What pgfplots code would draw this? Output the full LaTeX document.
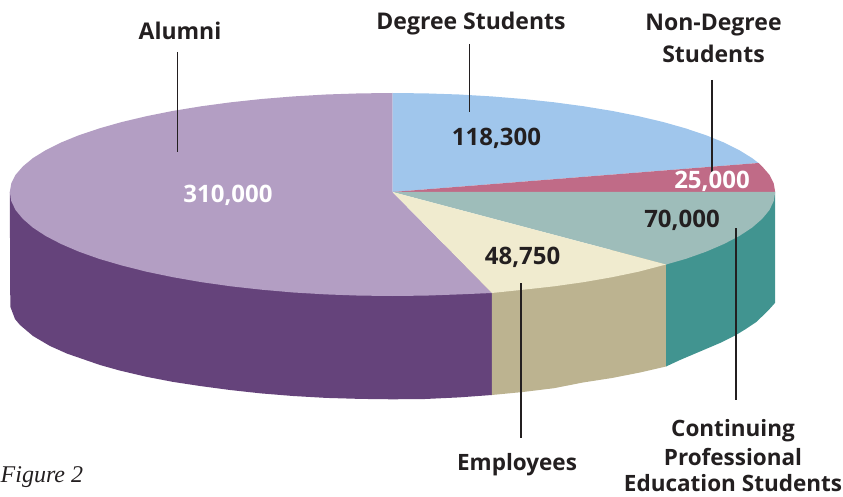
\documentclass[border=0pt]{standalone}
\usepackage{fontspec}
\setmainfont{Open Sans}
\newfontfamily\figfont{Liberation Serif}
\usepackage{pgfplots}
\pgfplotsset{compat=1.18}
\definecolor{sideA}{HTML}{65437B}
\definecolor{sideE}{HTML}{BCB390}
\definecolor{sideC}{HTML}{419490}
\definecolor{topA}{HTML}{B39EC3}
\definecolor{topD}{HTML}{A0C6EC}
\definecolor{topN}{HTML}{C06B87}
\definecolor{topC}{HTML}{9EBDBA}
\definecolor{topE}{HTML}{F0EBCF}
\definecolor{ink}{HTML}{231F20}
\tikzset{lbl/.style={font=\fontsize{23}{24}\selectfont\bfseries,text=ink,anchor=base,inner sep=0pt},
 low/.style={lbl,font=\fontsize{22.5}{24}\selectfont\bfseries},
 num/.style={lbl,font=\fontsize{24}{25}\selectfont\bfseries}}
\begin{document}
\begin{tikzpicture}
\path[use as bounding box,clip] (0,0) rectangle (843pt,497pt);
\begin{axis}[
  at={(0,0)},anchor=south west,scale only axis,width=843pt,height=497pt,
  xmin=0,xmax=843,ymin=0,ymax=497,y dir=reverse,hide axis,clip=false,
  every axis plot/.append style={no markers},
]
% sides
\addplot[fill=sideA,draw=none] coordinates {(9.8,192)(10.3,306.7)(15,319)(20,325)(33,336)(50,346)(67,353.6)(100,365)(120,370.6)(146,376.7)(173,381.9)(200,386)(230,390)(261,393.4)(293,396)(326,397.9)(360,398.9)(392.5,399.3)(425,399)(459,397.4)(491.8,395)(491.8,250)};
\addplot[fill=sideE,draw=none] coordinates {(491.8,250)(491.8,395)(523,392)(554,388.2)(583,382.5)(612,378)(640,372.5)(666,366.5)(666,250)};
\addplot[fill=sideC,draw=none] coordinates {(666,264.5)(666,366.5)(680,360)(700,351.5)(720,343)(736,335)(745,329.5)(756.7,321.7)(762,316.5)(770,308.5)(775.2,302.7)(775.2,192)};
% top surface
\addplot[fill=topA,draw=none] coordinates {(392.5,192)(491.8,293)(459,294.4)(425.9,295.6)(392.5,296)(359.1,295.6)(326,294.4)(293.5,292.5)(261.6,289.7)(230.8,286.3)(201.1,282.1)(173,277.2)(146.5,271.7)(121.9,265.5)(99.3,258.9)(79,251.7)(61.1,244)(45.7,236)(32.9,227.6)(22.9,218.9)(15.6,210.1)(11.3,201.1)(9.8,192)(11.3,183.4)(15.6,174.8)(22.9,166.4)(32.9,158.1)(45.7,150.2)(61.1,142.5)(79,135.2)(99.3,128.4)(121.9,122)(146.5,116.2)(173,110.9)(201.1,106.3)(230.8,102.3)(261.6,99)(293.5,96.4)(326,94.5)(359.1,93.4)(392.5,93)};
\addplot[fill=topD,draw=none] coordinates {(392.5,192)(392.5,93)(425.9,93.4)(459,94.5)(491.5,96.4)(523.4,99)(554.2,102.3)(583.9,106.3)(612,110.9)(638.5,116.2)(663.1,122)(685.7,128.4)(706,135.2)(723.9,142.5)(739.3,150.2)(752.1,158.1)(758.5,163)};
\addplot[fill=topN,draw=none] coordinates {(392.5,192)(758.5,163)(762.1,166.4)(769.4,174.8)(773.7,183.4)(775.2,192)};
\addplot[fill=topC,draw=none] coordinates {(392.5,192)(775.2,192)(773.7,201.1)(769.4,210.1)(762.1,218.9)(752.1,227.6)(739.3,236)(723.9,244)(706,251.7)(685.7,258.9)(666,264.5)};
\addplot[fill=topE,draw=none] coordinates {(392.5,192)(666,264.5)(638.5,271.7)(612,277.2)(583.9,282.1)(554.2,286.3)(523.4,289.7)(491.8,293)};
% leaders
\addplot[ink,line width=1.9pt] coordinates {(177.5,52)(177.5,152)};
\addplot[ink,line width=1.9pt] coordinates {(469.5,44)(469.5,112)};
\addplot[ink,line width=1.9pt] coordinates {(712,80)(712,172)};
\addplot[ink,line width=1.9pt] coordinates {(736,228)(736,400)};
\addplot[ink,line width=1.9pt] coordinates {(521,283)(521,438)};
% texts
\node[lbl] at (axis cs:180,39.5) {Alumni};
\node[lbl] at (axis cs:471,30) {Degree Students};
\node[lbl] at (axis cs:713.5,31) {Non-Degree};
\node[lbl] at (axis cs:713.5,63) {Students};
\node[num] at (axis cs:496.5,146) {118,300};
\node[num,text=white] at (axis cs:228,203) {310,000};
\node[num,text=white] at (axis cs:712,189) {25,000};
\node[num] at (axis cs:682,227) {70,000};
\node[num] at (axis cs:522.6,264) {48,750};
\node[low] at (axis cs:517,470) {Employees};
\node[low] at (axis cs:733,436) {Continuing};
\node[low] at (axis cs:733,465) {Professional};
\node[low] at (axis cs:733,491) {Education Students};
\node[anchor=base west,inner sep=0pt,text=ink,font=\fontsize{24}{25}\selectfont\figfont\itshape] at (axis cs:0.5,482) {Figure 2};
\end{axis}
\end{tikzpicture}
\end{document}
